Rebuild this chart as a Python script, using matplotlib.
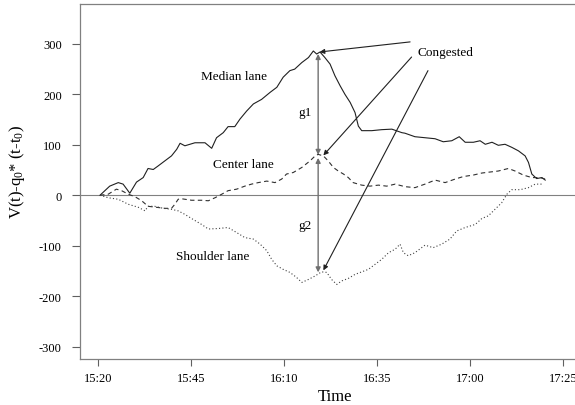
import matplotlib
matplotlib.use("Agg")
import matplotlib.pyplot as plt

plt.rcParams['font.family'] = ['Liberation Serif', 'DejaVu Serif']
plt.rcParams['mathtext.fontset'] = 'custom'
plt.rcParams['mathtext.rm'] = 'Liberation Serif'
plt.rcParams['mathtext.it'] = 'Liberation Serif:italic'
plt.rcParams['axes.unicode_minus'] = False

# minutes after 15:20 and cumulative counts V(t)-q0*(t-t0)
median_t = [0.5, 3.1, 5.4, 6.7, 8.5, 10.3, 12.1, 13.4, 14.8, 16.1, 17.9, 19.7, 21.1, 22.0,
            23.3, 26.0, 28.7, 30.5, 31.8, 33.6, 34.9, 36.7, 38.1, 39.9, 41.7, 43.9, 46.2,
            48.0, 49.7, 51.5, 52.8, 54.7, 56.5, 57.8, 58.7, 59.6, 60.9, 62.3, 63.6, 65.0,
            66.3, 67.7, 69.0, 69.9, 70.8, 73.5, 76.2, 78.9, 81.6, 82.4, 85.1, 87.8, 90.5,
            92.7, 95.0, 97.0, 98.6, 100.8, 102.6, 104.0, 105.8, 107.5, 109.3, 111.1, 112.9,
            114.7, 115.6, 116.5, 117.8, 119.2, 120.1]
median_v = [0, 18, 25, 22, 4, 26, 35, 53, 51, 58, 68, 78, 91, 103,
            98, 104, 104, 93, 114, 124, 136, 136, 151, 167, 181, 190, 204,
            214, 234, 247, 250, 263, 273, 286, 280, 284, 273, 260, 237, 217,
            200, 184, 164, 137, 128, 128, 130, 131, 124, 123, 116, 114, 112,
            106, 108, 116, 105, 105, 108, 101, 105, 99, 101, 95, 88,
            78, 65, 42, 33, 35, 30]

center_t = [0.5, 2.7, 4.9, 6.3, 8.1, 9.9, 11.7, 13.4, 15.7, 17.9, 19.7, 20.6, 21.5, 22.4,
            25.1, 27.8, 29.6, 31.4, 33.2, 34.9, 37.2, 39.4, 41.2, 43.0, 45.3, 47.5, 49.3,
            50.6, 52.4, 54.7, 56.9, 58.3, 59.1, 60.5, 61.8, 63.2, 64.5, 65.9, 67.2, 68.5,
            70.8, 73.0, 75.3, 77.5, 79.8, 82.4, 85.1, 87.8, 90.5, 93.2, 95.9, 98.1, 100.8,
            103.1, 105.3, 107.5, 110.2, 112.0, 114.2, 116.5, 118.7, 120.1]
center_v = [0, 2, 12, 9, 2, -3, -11, -22, -24, -26, -26, -18, -8, -7,
            -10, -10, -11, -5, 2, 9, 12, 18, 22, 25, 28, 25, 32,
            42, 45, 55, 68, 78, 81, 78, 68, 55, 48, 42, 35, 25,
            20, 18, 20, 18, 22, 17, 15, 22, 30, 25, 32, 37, 40,
            44, 46, 48, 53, 48, 40, 35, 35, 32]

shoulder_t = [0.5, 2.7, 5.4, 8.1, 10.8, 12.6, 13.4, 15.2, 17.5, 19.7, 21.5, 23.3, 25.5,
              27.8, 29.6, 32.3, 34.9, 37.2, 39.4, 41.7, 43.5, 45.3, 46.6, 48.0, 49.7,
              51.5, 53.3, 54.7, 56.5, 58.3, 60.0, 61.4, 62.7, 64.1, 65.4, 67.2, 69.0,
              70.8, 72.6, 74.4, 76.2, 78.0, 79.8, 81.1, 82.0, 83.3, 85.1, 87.8, 90.0,
              92.3, 94.5, 96.3, 98.6, 101.3, 103.1, 104.8, 106.6, 108.4, 109.8, 111.1,
              113.4, 115.6, 117.4, 119.2]
shoulder_v = [0, -5, -8, -18, -24, -31, -22, -22, -26, -28, -31, -38, -48,
              -58, -67, -66, -64, -74, -84, -87, -97, -110, -127, -140, -147,
              -153, -163, -173, -167, -160, -152, -153, -167, -177, -170, -165, -157,
              -152, -147, -137, -127, -114, -107, -97, -114, -120, -114, -99, -104,
              -97, -87, -71, -64, -58, -46, -41, -28, -15, 2, 11,
              11, 15, 22, 22]

tick_pos = [0, 25, 50, 75, 100, 125]
tick_labels = ['15:20', '15:45', '16:10', '16:35', '17:00', '17:25']

fig = plt.figure(figsize=(5.75, 4.06), dpi=100)
ax = fig.add_axes([0.139, 0.113, 0.861, 0.8745])

ax.axhline(0, color='#808080', lw=0.8)
ax.plot(median_t, median_v, color='#202020', lw=0.8)
ax.plot(center_t, center_v, color='#303030', lw=0.8, linestyle=(0, (4, 3)))
ax.plot(shoulder_t, shoulder_v, color='#404040', lw=0.8, linestyle=(0, (1, 2)))

# gaps between lanes
arrow_grey = dict(arrowstyle='<|-|>', mutation_scale=7, lw=1.0, color='#707070',
                  shrinkA=0, shrinkB=0)
ax.annotate('', xy=(59.1, 80), xytext=(59.1, 280), arrowprops=arrow_grey)
ax.annotate('', xy=(59.1, -153), xytext=(59.1, 74), arrowprops=arrow_grey)

# pointers from "Congested"
arrow_blk = dict(arrowstyle='-|>', mutation_scale=7, lw=0.8, color='#202020',
                 shrinkA=0, shrinkB=0)
ax.annotate('', xy=(59.5, 284), xytext=(83.8, 304), arrowprops=arrow_blk)
ax.annotate('', xy=(60.5, 79), xytext=(84.2, 274), arrowprops=arrow_blk)
ax.annotate('', xy=(60.5, -149), xytext=(88.6, 247), arrowprops=arrow_blk)

fs = 9.5
ax.text(36.6, 236, 'Median lane', fontsize=fs, ha='center', va='center')
ax.text(93.2, 284, 'Congested', fontsize=fs, ha='center', va='center')
ax.text(55.6, 165, 'g1', fontsize=fs, ha='center', va='center')
ax.text(39.0, 62, 'Center lane', fontsize=fs, ha='center', va='center')
ax.text(55.6, -60, 'g2', fontsize=fs, ha='center', va='center')
ax.text(30.8, -121, 'Shoulder lane', fontsize=fs, ha='center', va='center')

ax.set_xlim(-4.9, 128.1)
ax.set_ylim(-325, 379)
ax.set_xticks(tick_pos)
ax.set_xticklabels(tick_labels)
ax.set_yticks([-300, -200, -100, 0, 100, 200, 300])
ax.tick_params(axis='x', direction='out', length=5, width=0.8, color='#606060',
               labelsize=9, pad=4)
ax.tick_params(axis='y', direction='out', length=6, width=0.8, color='#606060',
               labelsize=9, pad=7)

for side in ['left', 'bottom', 'top']:
    ax.spines[side].set_color('#808080')
    ax.spines[side].set_linewidth(0.9)
ax.spines['right'].set_visible(False)

ax.set_xlabel('Time', fontsize=12)
ax.xaxis.set_label_coords(0.515, -0.082)
ax.set_ylabel(r'V(t)-q$_0$* (t-t$_0$)', fontsize=12)
ax.yaxis.set_label_coords(-0.107, 0.53)

fig.savefig('out.png', dpi=100)
